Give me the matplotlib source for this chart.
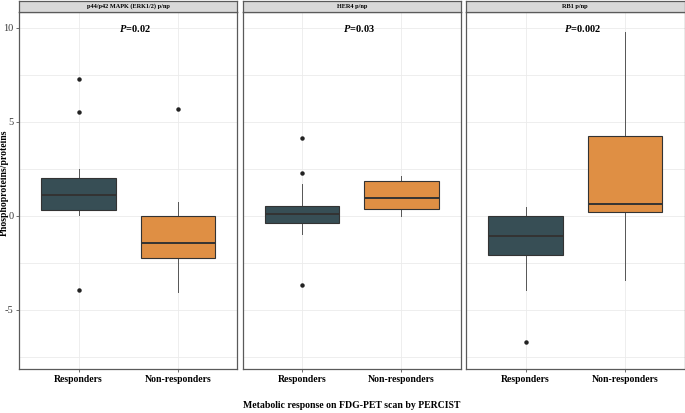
import matplotlib
matplotlib.use("Agg")
import matplotlib.pyplot as plt

plt.rcParams['font.family'] = ['Liberation Serif', 'DejaVu Serif']
plt.rcParams['mathtext.fontset'] = 'custom'
plt.rcParams['mathtext.bfit'] = 'Liberation Serif:italic:bold'
plt.rcParams['mathtext.bf'] = 'Liberation Serif:bold'

panels = ['p44/p42 MAPK (ERK1/2) p/np', 'HER4 p/np', 'RB1 p/np']
pvals = ['0.02', '0.03', '0.002']
groups = ['Responders', 'Non-responders']
fills = ['#374E55', '#DF8F44']

# per panel: [responders, non-responders] -> (whislo, q1, med, q3, whishi, fliers)
stats = [
    [(0.04, 0.32, 1.13, 2.02, 2.48, [7.27, 5.53, -3.95]),
     (-4.06, -2.25, -1.45, 0.0, 0.74, [5.67])],
    [(-0.97, -0.36, 0.09, 0.50, 1.69, [4.13, 2.29, -3.67]),
     (-0.03, 0.39, 0.94, 1.85, 2.13, [])],
    [(-3.94, -2.07, -1.06, 0.0, 0.46, [-6.69]),
     (-3.40, 0.21, 0.65, 4.26, 9.77, [])],
]

W, H = 685, 413
fig = plt.figure(figsize=(6.85, 4.13), dpi=100)
lefts = [19, 242.5, 466]
pw = 218.5
top, bottom = 12, 369

for i, name in enumerate(panels):
    ax = fig.add_axes([lefts[i] / W, 1 - bottom / H, pw / W, (bottom - top) / H])
    bxs = []
    for j, s in enumerate(stats[i]):
        bxs.append(dict(whislo=s[0], q1=s[1], med=s[2], q3=s[3], whishi=s[4], fliers=s[5]))
    b = ax.bxp(bxs, positions=[1, 2], widths=0.75, patch_artist=True, showcaps=False,
               boxprops=dict(edgecolor='#333333', linewidth=0.8),
               whiskerprops=dict(color='#555555', linewidth=0.7),
               medianprops=dict(color='#333333', linewidth=1.4),
               flierprops=dict(marker='o', markerfacecolor='#222222', markeredgecolor='#222222',
                               markersize=2.2, linestyle='none'))
    for patch, c in zip(b['boxes'], fills):
        patch.set_facecolor(c)
    for artist in b['boxes'] + b['medians']:
        artist.set_zorder(3)

    ax.set_xlim(0.4, 2.6)
    ax.set_ylim(-8.15, 10.85)
    ax.set_yticks([-5, 0, 5, 10])
    ax.set_yticks([-7.5, -2.5, 2.5, 7.5], minor=True)
    ax.set_xticks([1, 2])
    ax.set_xticklabels(groups, fontsize=7, fontweight='bold', color='black')
    ax.grid(True, which='both', color='#EBEBEB', linewidth=0.6)
    ax.set_axisbelow(True)
    ax.tick_params(axis='x', length=2.5, width=0.5, color='#333333', pad=2)
    ax.tick_params(axis='y', which='minor', length=0)
    if i == 0:
        ax.tick_params(axis='y', length=2.5, width=0.5, color='#333333', labelsize=7.5,
                       labelcolor='#3A3A3A', pad=1.5)
        ax.set_yticklabels(['-5', '0', '5', '10'])
    else:
        ax.tick_params(axis='y', length=0, labelleft=False)
    for sp in ax.spines.values():
        sp.set_color('#5A5A5A')
        sp.set_linewidth(0.9)

    ax.text(1.57, 9.95, r'$\mathbfit{P}$=' + pvals[i], ha='center', va='center',
            fontsize=7.5, fontweight='bold')

    # facet strip
    sax = fig.add_axes([lefts[i] / W, 1 - 11.5 / H, pw / W, 10.5 / H])
    sax.set_facecolor('#D9D9D9')
    sax.set_xticks([])
    sax.set_yticks([])
    for sp in sax.spines.values():
        sp.set_color('#5A5A5A')
        sp.set_linewidth(0.9)
    sax.text(0.5, 0.5, name, ha='center', va='center', fontsize=4.5, fontweight='bold',
             transform=sax.transAxes)

fig.text(4 / W, 1 - 183 / H, 'Phosphoproteins/proteins', rotation=90, ha='center',
         va='center', fontsize=7, fontweight='bold')
fig.text(352 / W, 1 - 406 / H, 'Metabolic response on FDG-PET scan by PERCIST', ha='center',
         va='center', fontsize=7, fontweight='bold')

fig.savefig('out.png', dpi=100)
